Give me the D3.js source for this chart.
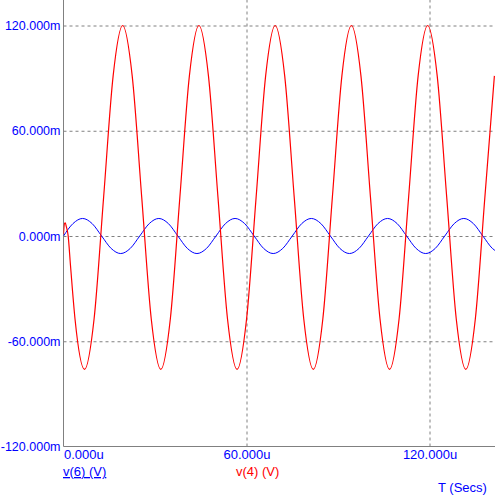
<!DOCTYPE html>
<html>
<head>
<meta charset="utf-8">
<script src="https://cdn.jsdelivr.net/npm/d3@7"></script>
<style>
html,body{margin:0;padding:0;background:#fff;}
svg{display:block;}
text{font-family:"Liberation Sans",Arial,sans-serif;font-size:13px;}
</style>
</head>
<body>
<svg id="chart" width="495" height="497"></svg>
<script>
// Data (time in µs, values in mV)
const yTicks = [-120, -60, 0, 60, 120];
const yTickLabels = ["-120.000m", "-60.000m", "0.000m", "60.000m", "120.000m"];
const xTicks = [0, 60, 120];
const xTickLabels = ["0.000u", "60.000u", "120.000u"];

// v(6): blue trace
const blueT = [0,3.125,6.25,9.375,12.5,15.625,18.75,21.875,25,28.125,31.25,34.375,37.5,40.625,43.75,46.875,50,53.125,56.25,59.375,62.5,65.625,68.75,71.875,75,78.125,81.25,84.375,87.5,90.625,93.75,96.875,100,103.125,106.25,109.375,112.5,115.625,118.75,121.875,125,128.125,131.25,134.375,137.5,140.625,143.75];
const blueV = [0,7.1,10,7.1,0,-7.1,-10,-7.1,0,7.1,10,7.1,0,-7.1,-10,-7.1,0,7.1,10,7.1,0,-7.1,-10,-7.1,0,7.1,10,7.1,0,-7.1,-10,-7.1,0,7.1,10,7.1,0,-7.1,-10,-7.1,0,7.1,10,7.1,0,-7.1,-10];

// v(4): red trace
const redT = [0,0.3,0.6,0.9,1.5,2.3,3.775,6.9,10.025,13.15,16.275,19.4,22.525,25.65,28.775,31.9,35.025,38.15,41.275,44.4,47.525,50.65,53.775,56.9,60.025,63.15,66.275,69.4,72.525,75.65,78.775,81.9,85.025,88.15,91.275,94.4,97.525,100.65,103.775,106.9,110.025,113.15,116.275,119.4,122.525,125.65,128.775,131.9,135.025,138.15,141.275];
const redV = [1,7,7.5,5.5,0.5,-17,-47.3,-76,-47.3,22,91.3,120,91.3,22,-47.3,-76,-47.3,22,91.3,120,91.3,22,-47.3,-76,-47.3,22,91.3,120,91.3,22,-47.3,-76,-47.3,22,91.3,120,91.3,22,-47.3,-76,-47.3,22,91.3,120,91.3,22,-47.3,-76,-47.3,22,91.3];

const svg = d3.select("#chart");
const pLeft = 63.5, pRight = 495, pTop = 0, pBottom = 446.5;

const x = d3.scaleLinear().domain([0, 120]).range([63.5, 429.5]);
const y = d3.scaleLinear().domain([-120, 120]).range([446.5, 25.5]);

const gray = "#808080";
const blue = "#0000ff";
const red = "#ff0000";

// Horizontal grid via axis
const yGrid = svg.append("g")
  .attr("transform", `translate(${pLeft},0)`)
  .call(d3.axisLeft(y).tickValues(yTicks).tickSize(-(pRight-pLeft)).tickFormat((d,i)=>yTickLabels[i]));
yGrid.select(".domain").remove();
yGrid.selectAll(".tick line")
  .attr("stroke", gray).attr("stroke-dasharray", "3,3")
  .attr("display", d => d === -120 ? "none" : null);
yGrid.selectAll(".tick text")
  .attr("x", -3).attr("fill", blue)
  .style("font-size", "12.5px").attr("font-family", "Liberation Sans, Arial, sans-serif");

// Vertical grid via axis
const xGrid = svg.append("g")
  .attr("transform", `translate(0,${pBottom})`)
  .call(d3.axisBottom(x).tickValues(xTicks).tickSize(-(pBottom-pTop)).tickFormat((d,i)=>xTickLabels[i]));
xGrid.select(".domain").remove();
xGrid.selectAll(".tick line")
  .attr("stroke", gray).attr("stroke-dasharray", "3,3")
  .attr("display", d => d === 0 ? "none" : null);
xGrid.selectAll(".tick text")
  .attr("y", 1).attr("dy", "0.9em").attr("fill", blue)
  .style("font-size", "13px").attr("font-family", "Liberation Sans, Arial, sans-serif")
  .attr("text-anchor", d => d === 0 ? "start" : "middle");

// Axis lines
svg.append("line").attr("x1", pLeft).attr("x2", pLeft).attr("y1", 0).attr("y2", pBottom)
  .attr("stroke", gray);
svg.append("line").attr("x1", pLeft).attr("x2", pRight).attr("y1", pBottom).attr("y2", pBottom)
  .attr("stroke", gray);

// Clip
svg.append("clipPath").attr("id", "plotclip")
  .append("rect").attr("x", pLeft).attr("y", 0).attr("width", pRight-pLeft).attr("height", pBottom);

const line = d3.line().x(d => x(d[0])).y(d => y(d[1])).curve(d3.curveMonotoneX);

const g = svg.append("g").attr("clip-path", "url(#plotclip)");
g.append("path").datum(blueT.map((t,i)=>[t, blueV[i]]))
  .attr("d", line).attr("fill", "none").attr("stroke", blue).attr("stroke-width", 1);
g.append("path").datum(redT.map((t,i)=>[t, redV[i]]))
  .attr("d", line).attr("fill", "none").attr("stroke", red).attr("stroke-width", 1.2);

// Legend labels
svg.append("text").attr("x", 63).attr("y", 476).attr("fill", blue)
  .style("text-decoration", "underline").text("v(6) (V)");
svg.append("text").attr("x", 236).attr("y", 476).attr("fill", red).text("v(4) (V)");
svg.append("text").attr("x", 438).attr("y", 491.5).attr("fill", blue).text("T (Secs)");
</script>
</body>
</html>
